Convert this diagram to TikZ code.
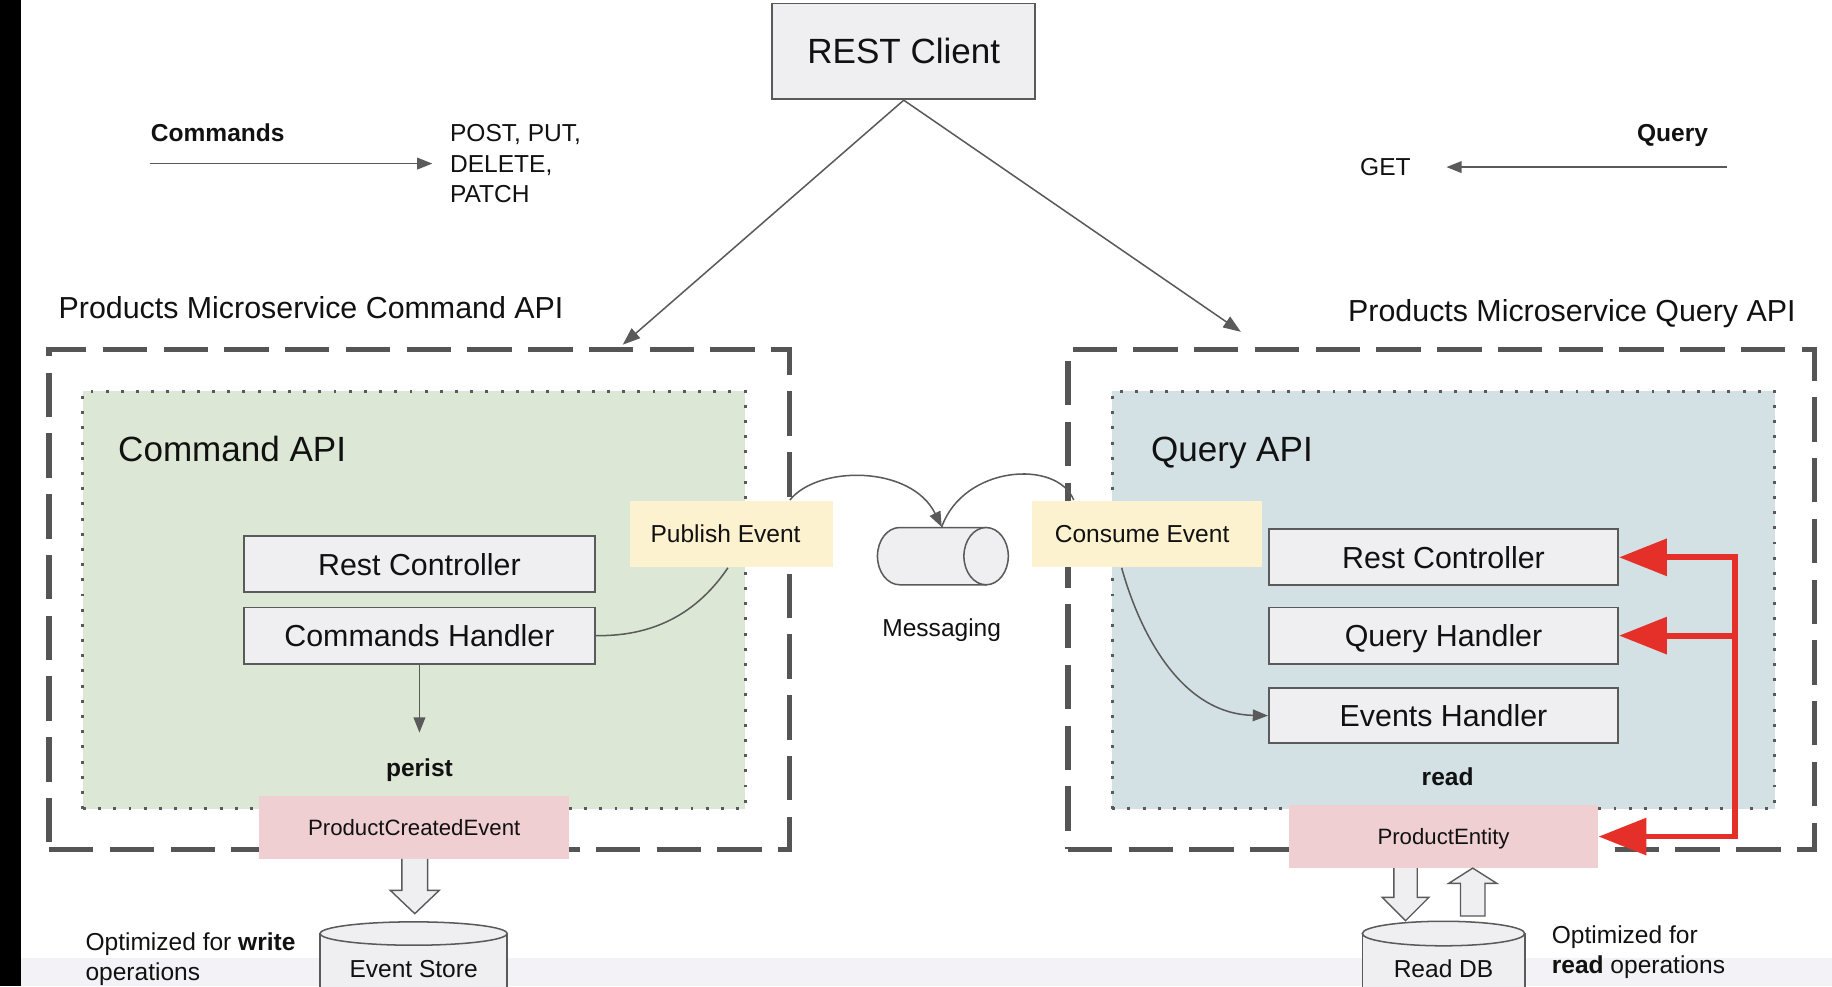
\documentclass[tikz,border=0pt]{standalone}
\usepackage{fontspec}
\setmainfont{Liberation Sans}
\usetikzlibrary{arrows.meta}
\definecolor{boxfill}{HTML}{EFEEF1}
\definecolor{boxline}{HTML}{5A5A5A}
\definecolor{greenfill}{HTML}{DDE7D5}
\definecolor{bluefill}{HTML}{D3E0E4}
\definecolor{yellowfill}{HTML}{FDF2D0}
\definecolor{pinkfill}{HTML}{F0CFD3}
\definecolor{redarrow}{HTML}{E5302A}
\definecolor{dashcol}{HTML}{555555}
\definecolor{bandcol}{HTML}{F3F3F7}
\definecolor{txt}{HTML}{111111}
\begin{document}
\begin{tikzpicture}[x=1pt,y=-1pt,
  fxl/.style={font=\fontsize{30}{36}\selectfont, text height=21.5pt, text depth=0pt},
  flg/.style={font=\fontsize{26}{31}\selectfont, text height=18.6pt, text depth=0pt},
  fmd/.style={font=\fontsize{21}{26}\selectfont, text height=15pt, text depth=0pt},
  fmdb/.style={font=\fontsize{21}{26}\selectfont\bfseries, text height=15pt, text depth=0pt},
  fml/.style={font=\fontsize{21}{26}\selectfont},
  fsm/.style={font=\fontsize{19}{23}\selectfont, text height=13.6pt, text depth=0pt},
  every node/.style={text=txt, inner sep=0pt},
  graybox/.style={draw=boxline, fill=boxfill, line width=1.5pt, minimum width=300pt, minimum height=48pt, flg},
  outerbox/.style={draw=dashcol, line width=4.5pt, dash pattern=on 38pt off 14pt},
  innerbox/.style={draw=boxline, line width=2.5pt, dash pattern=on 2.5pt off 10.5pt},
  garrow/.style={draw=boxline, line width=1.3pt, -{Triangle[length=13pt,width=10pt]}},
  thinline/.style={draw=boxline, line width=1.3pt},
  redpath/.style={draw=redarrow, line width=5pt},
  redtip/.style={-{Triangle[length=41pt,width=31pt]}},
  blockarrow/.style={draw=boxline, fill=boxfill, line width=1.2pt, line join=miter},
  cyl/.style={draw=boxline, fill=boxfill, line width=1.3pt}
]
\useasboundingbox (0,0) rectangle (1568,844);
\clip (0,0) rectangle (1568,844);
\fill[white] (0,0) rectangle (1568,844);
\fill[black] (0,0) rectangle (18,844);
\fill[bandcol] (18,820) rectangle (1568,844);

% REST client
\node[draw=boxline, fill=boxfill, line width=1.5pt, minimum width=225pt, minimum height=82pt, fxl] (rest) at (773.5,44) {REST Client};

% Commands / Query legends
\node[fmdb, anchor=west] (cmdlbl) at (129,114) {Commands};
\coordinate (ca1) at (128,140);
\coordinate (ca2) at (370,140);
\draw[garrow] (ca1) -- (ca2);
\node[fml, align=left, anchor=west] (methods) at (385,140) {POST, PUT,\\DELETE,\\PATCH};

\node[fmdb, anchor=east] (qlbl) at (1462,114) {Query};
\node[fmd, anchor=west] (get) at (1164,143) {GET};
\coordinate (qa1) at (1478,143);
\coordinate (qa2) at (1238,143);
\draw[garrow] (qa1) -- (qa2);

% Titles
\node[flg, anchor=west] (cmdtitle) at (50,263) {Products Microservice Command API};
\node[flg, anchor=east] (qtitle) at (1537,266) {Products Microservice Query API};

% Outer dashed boxes
\node[outerbox, minimum width=634pt, minimum height=428pt] (cmdouter) at (359,513) {};
\node[outerbox, minimum width=639pt, minimum height=428pt] (qouter) at (1233.5,513) {};

% REST arrows
\coordinate (lt) at (533,295);
\coordinate (rt) at (1062,284);
\draw[draw=boxline, line width=1.3pt, -{Triangle[length=15pt,width=11pt]}] (rest.south) -- (lt);
\draw[draw=boxline, line width=1.3pt, -{Triangle[length=15pt,width=11pt]}] (rest.south) -- (rt);

% Inner dotted boxes
\node[innerbox, fill=greenfill, minimum width=567pt, minimum height=357pt] (cmdinner) at (354.5,513.5) {};
\node[innerbox, fill=bluefill, minimum width=567pt, minimum height=357pt] (qinner) at (1235.5,513.5) {};

\node[fxl, anchor=west] (cmdapi) at (101,384) {Command API};
\node[fxl, anchor=west] (qapi) at (985,384) {Query API};

% Command side
\node[graybox] (lrc) at (359,483) {Rest Controller};
\node[graybox] (lch) at (359,544) {Commands Handler};
\coordinate (persistpt) at (359,627);
\draw[garrow] (lch.south) -- (persistpt);
\node[fmdb] (perist) at (359,657) {perist};
\node[fill=pinkfill, minimum width=265pt, minimum height=54pt, fsm] (pce) at (354.5,708) {ProductCreatedEvent};

% Publish event
\node[fill=yellowfill, minimum width=174pt, minimum height=56pt, fmd] (pub) at (626,457) {\hspace*{-10pt}Publish Event};
\coordinate (pubin) at (623,486);
\draw[thinline] (lch.east) .. controls (565,545) and (600,520) .. (pubin);

% Messaging
\coordinate (a1) at (676,428);
\coordinate (msgtop) at (806,451);
\coordinate (a2) at (919,428);
\draw[garrow] (a1) .. controls (700,398) and (780,398) .. (msgtop);
\draw[thinline] (msgtop) .. controls (825,398) and (905,393) .. (a2);
\path[cyl] (770,451.5) -- (844,451.5) -- (844,500.5) -- (770,500.5)
  arc[start angle=90, end angle=270, x radius=19pt, y radius=-24.5pt] -- cycle;
\draw[cyl] (844,476) ellipse[x radius=19pt, y radius=24.5pt];
\node[fmd] (msglbl) at (806,537) {Messaging};

% Query side
\node[fill=yellowfill, minimum width=197pt, minimum height=56pt, fmd] (ce) at (981.5,457) {\hspace*{-8pt}Consume Event};
\node[graybox, minimum width=299pt] (qrc) at (1235.5,477) {Rest Controller};
\node[graybox, minimum width=299pt] (qqh) at (1235.5,544) {Query Handler};
\node[graybox, minimum width=299pt, minimum height=47pt] (qeh) at (1235.5,612.5) {Events Handler};
\coordinate (cein) at (960,486);
\draw[garrow] (cein) .. controls (975,540) and (1010,611) .. (qeh.west);
\node[fmdb] (read) at (1239,665) {read};
\node[fill=pinkfill, minimum width=265pt, minimum height=54pt, fsm] (pe) at (1235.5,716) {ProductEntity};

% Red arrows
\coordinate (r1) at (1485,477);
\coordinate (r2) at (1485,716);
\draw[redpath, line join=miter, {Triangle[length=41pt,width=31pt]}-{Triangle[length=41pt,width=31pt]}] (qrc.east) -- (r1) -- (r2) -- (pe.east);
\draw[redpath, redtip] (qqh.east -| r1) -- (qqh.east);

% Event store
\path[cyl] (274,799) -- (274,870) -- (434,870) -- (434,799) -- cycle;
\draw[cyl] (354,799) ellipse[x radius=80pt, y radius=10pt];
\node[fmd] (es) at (354,829) {Event Store};
\draw[blockarrow] (344,735) -- (344,762) -- (334,762) -- (355,782) -- (376,762) -- (366,762) -- (366,735);
\node[fml, align=left, anchor=west] (optw) at (73,821) {Optimized for \textbf{write}\\operations};

% Read DB
\path[cyl] (1166,799) -- (1166,870) -- (1305,870) -- (1305,799) -- cycle;
\draw[cyl] (1235.5,799) ellipse[x radius=69.5pt, y radius=10.5pt];
\node[fmd] (rdb) at (1235.5,829) {Read DB};
\draw[blockarrow] (1193,743) -- (1193,768) -- (1183,768) -- (1203,788) -- (1223,768) -- (1213,768) -- (1213,743);
\draw[blockarrow] (1250,784) -- (1250,756) -- (1240,756) -- (1260.5,743) -- (1281,756) -- (1271,756) -- (1271,784) -- cycle;
\node[fml, align=left, anchor=west] (optr) at (1328,815) {Optimized for\\\textbf{read} operations};
\end{tikzpicture}
\end{document}
